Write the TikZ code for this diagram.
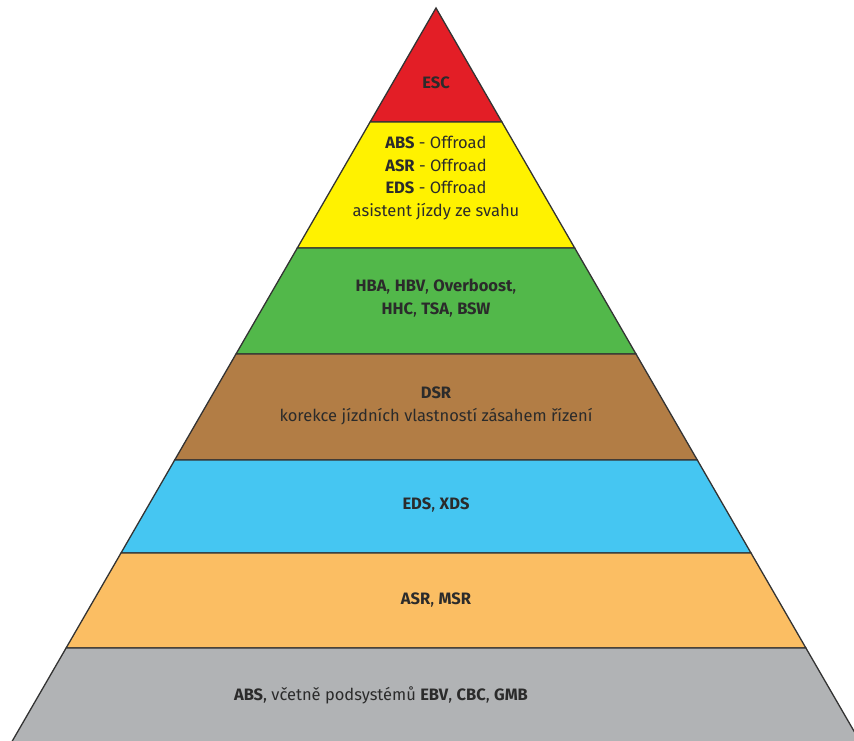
\documentclass[tikz,border=0pt]{standalone}
\usepackage{fontspec}
\setmainfont{Fira Sans}
\usepackage{tikz}
\usepackage{xcolor}
\usetikzlibrary{positioning, calc}

\definecolor{escred}{HTML}{E31E26}
\definecolor{offyellow}{HTML}{FFF200}
\definecolor{assistgreen}{HTML}{52B84A}
\definecolor{dsrbrown}{HTML}{B27D45}
\definecolor{edsblue}{HTML}{45C6F2}
\definecolor{asrorange}{HTML}{FBBE63}
\definecolor{absgrey}{HTML}{B1B3B5}
\definecolor{ink}{HTML}{2B2B2B}
\definecolor{edge}{HTML}{333333}

\begin{document}
\begin{tikzpicture}[
  x=1pt, y=-1pt,
  every node/.style={font=\fontsize{16.5}{22.5}\selectfont, text=ink, align=center},
  band/.style={draw=edge, line width=1.3pt, line join=miter}
]
\useasboundingbox (0,0) rectangle (854,740);
\clip (0,0) rectangle (854,740);

% Top: ESC
\filldraw[band, fill=escred] (436,8) -- (501.9,122) -- (370.1,122) -- cycle;
\node (esc) at (436,83) {\textbf{ESC}};

% Offroad assistants
\filldraw[band, fill=offyellow] (370.1,122) -- (501.9,122) -- (574.7,248) -- (297.3,248) -- cycle;
\node (offroad) at (436,178)
  {\textbf{ABS} - Offroad\\\textbf{ASR} - Offroad\\\textbf{EDS} - Offroad\\asistent jízdy ze svahu};

% Brake assistants
\filldraw[band, fill=assistgreen] (297.3,248) -- (574.7,248) -- (636,354) -- (236,354) -- cycle;
\node (assist) at (436,298) {\textbf{HBA}, \textbf{HBV}, \textbf{Overboost},\\\textbf{HHC}, \textbf{TSA}, \textbf{BSW}};

% Steering correction
\filldraw[band, fill=dsrbrown] (236,354) -- (636,354) -- (697.3,460) -- (174.7,460) -- cycle;
\node (dsr) at (436,406) {\textbf{DSR}\\korekce jízdních vlastností zásahem řízení};

% Differential locks
\filldraw[band, fill=edsblue] (174.7,460) -- (697.3,460) -- (751,553) -- (121,553) -- cycle;
\node (eds) at (436,505) {\textbf{EDS}, \textbf{XDS}};

% Traction control
\filldraw[band, fill=asrorange] (121,553) -- (751,553) -- (805.9,648) -- (66.1,648) -- cycle;
\node (asr) at (436,600) {\textbf{ASR}, \textbf{MSR}};

% Base: ABS (runs past the lower edge)
\filldraw[band, fill=absgrey] (66.1,648) -- (805.9,648) -- (862.6,746) -- (9.4,746) -- cycle;
\node (abs) at (381,695) {\textbf{ABS}, včetně podsystémů \textbf{EBV}, \textbf{CBC}, \textbf{GMB}};

\end{tikzpicture}
\end{document}
